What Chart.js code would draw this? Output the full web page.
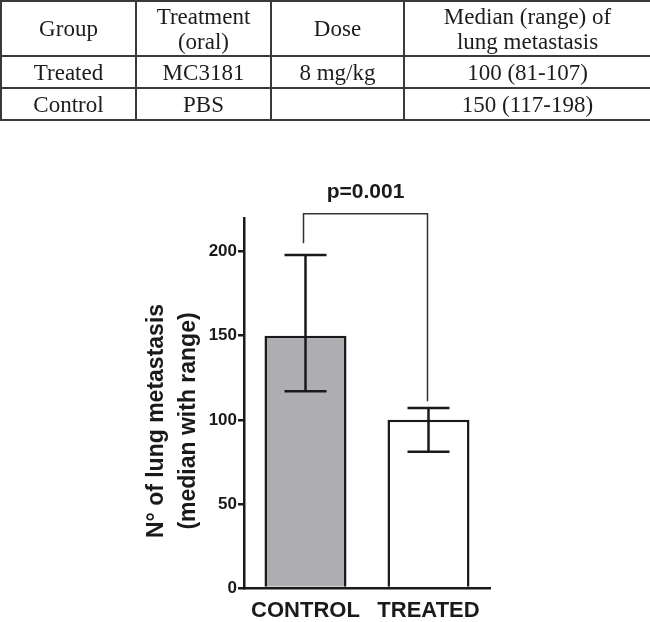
<!DOCTYPE html>
<html>
<head>
<meta charset="utf-8">
<script src="https://cdn.jsdelivr.net/npm/chart.js@4"></script>
<style>
  html, body { margin: 0; padding: 0; background: #ffffff; }
  #wrap { position: relative; width: 650px; height: 622px; overflow: hidden; }
  #chart { position: absolute; left: 0; top: 0; }
  #tbl {
    position: absolute; left: 0; top: 0; width: 650px;
    border-collapse: collapse; table-layout: fixed;
    font-family: "Liberation Serif", "Times New Roman", serif;
    font-size: 23px; color: #1c1c1c; z-index: 2;
  }
  #tbl td {
    border: 2px solid #3a3a3a; text-align: center; vertical-align: middle;
    padding: 0; line-height: 25px;
  }
  #tbl tr.h td { height: 53px; }
  #tbl tr.r td { height: 30px; }
</style>
</head>
<body>
<div id="wrap">
  <table id="tbl"><colgroup><col style="width:135px"><col style="width:135px"><col style="width:133px"><col style="width:247px"></colgroup><tbody></tbody></table>
  <canvas id="chart" width="650" height="622"></canvas>
</div>
<script>
// ---- table data ----
const tableHeader = ['Group', 'Treatment<br>(oral)', 'Dose', 'Median (range) of<br>lung metastasis'];
const tableGroups = ['Treated', 'Control'];
const tableTreatments = ['MC3181', 'PBS'];
const tableDoses = ['8 mg/kg', ''];
const tableMedianRange = ['100 (81-107)', '150 (117-198)'];

// ---- chart data ----
const categories = ['CONTROL', 'TREATED'];
const medians = [150, 100];
const rangeLow = [117, 81];
const rangeHigh = [198, 107];
const yTicks = [0, 50, 100, 150, 200];
const pLabel = 'p=0.001';
const yTitleLines = ['N\u00B0 of lung metastasis', '(median with range)'];

// build table
const tb = document.querySelector('#tbl tbody');
let html = '<tr class="h">' + tableHeader.map(h => '<td>' + h + '</td>').join('') + '</tr>';
for (let i = 0; i < tableGroups.length; i++) {
  html += '<tr class="r"><td>' + tableGroups[i] + '</td><td>' + tableTreatments[i] + '</td><td>' +
    tableDoses[i] + '</td><td>' + tableMedianRange[i] + '</td></tr>';
}
tb.innerHTML = html;

const INK = '#1a1a1a';
const SANS = '"Liberation Sans", Arial, sans-serif';

const errorBarPlugin = {
  id: 'errorBars',
  afterDatasetsDraw(chart) {
    const ctx = chart.ctx;
    const y = chart.scales.y;
    const meta = chart.getDatasetMeta(0);
    ctx.save();
    ctx.strokeStyle = INK;
    ctx.lineWidth = 2.5;
    meta.data.forEach((bar, i) => {
      const x = bar.x;
      const yl = y.getPixelForValue(rangeLow[i]);
      const yh = y.getPixelForValue(rangeHigh[i]);
      const cap = 21;
      ctx.beginPath();
      ctx.moveTo(x, yl); ctx.lineTo(x, yh);
      ctx.moveTo(x - cap, yl); ctx.lineTo(x + cap, yl);
      ctx.moveTo(x - cap, yh); ctx.lineTo(x + cap, yh);
      ctx.stroke();
    });
    ctx.restore();
  }
};

const bracketPlugin = {
  id: 'bracket',
  afterDraw(chart) {
    const ctx = chart.ctx;
    const y = chart.scales.y;
    const meta = chart.getDatasetMeta(0);
    const x0 = meta.data[0].x - 2;
    const x1 = meta.data[1].x - 1;
    const top = y.getPixelForValue(222.5);
    const leftEnd = y.getPixelForValue(205);
    const rightEnd = y.getPixelForValue(111);
    ctx.save();
    ctx.strokeStyle = '#333333';
    ctx.lineWidth = 1.5;
    ctx.beginPath();
    ctx.moveTo(x0, leftEnd); ctx.lineTo(x0, top); ctx.lineTo(x1, top); ctx.lineTo(x1, rightEnd);
    ctx.stroke();
    ctx.fillStyle = INK;
    ctx.font = 'bold 21px ' + SANS;
    ctx.textAlign = 'center';
    ctx.textBaseline = 'alphabetic';
    ctx.fillText(pLabel, (x0 + x1) / 2, top - 16);
    ctx.restore();
  }
};

const yTitlePlugin = {
  id: 'yTitle',
  afterDraw(chart) {
    const ctx = chart.ctx;
    const ca = chart.chartArea;
    const cy = (ca.top + ca.bottom) / 2 + 18;
    const baselines = [163, 195];
    ctx.save();
    ctx.fillStyle = INK;
    ctx.font = 'bold 23px ' + SANS;
    ctx.textAlign = 'center';
    ctx.textBaseline = 'alphabetic';
    yTitleLines.forEach((t, i) => {
      ctx.save();
      ctx.translate(baselines[i], cy);
      ctx.rotate(-Math.PI / 2);
      ctx.fillText(t, 0, 0);
      ctx.restore();
    });
    ctx.restore();
  }
};

new Chart(document.getElementById('chart'), {
  type: 'bar',
  data: {
    labels: categories,
    datasets: [{
      data: medians,
      backgroundColor: ['#aeaeb2', '#ffffff'],
      borderColor: INK,
      borderWidth: 2.5,
      categoryPercentage: 1.0,
      barPercentage: 0.667
    }]
  },
  options: {
    responsive: false,
    animation: false,
    devicePixelRatio: 1,
    layout: { padding: { top: 218, right: 160, left: 0, bottom: 0 } },
    plugins: { legend: { display: false }, tooltip: { enabled: false } },
    scales: {
      y: {
        min: 0, max: 220,
        afterBuildTicks(scale) { scale.ticks = yTicks.map(v => ({ value: v })); },
        afterFit(scale) { scale.width = 244; },
        grid: { display: true, drawOnChartArea: false, drawTicks: true, tickLength: 6, color: INK, lineWidth: 2.5 },
        border: { display: true, color: INK, width: 2.5 },
        ticks: { color: INK, padding: 1, font: { family: SANS, size: 17, weight: 'bold' } }
      },
      x: {
        afterFit(scale) { scale.height = 34; },
        grid: { display: false, drawOnChartArea: false, drawTicks: false },
        border: { display: true, color: INK, width: 2.5 },
        ticks: { color: INK, padding: 10, font: { family: SANS, size: 22, weight: 'bold' } }
      }
    }
  },
  plugins: [errorBarPlugin, bracketPlugin, yTitlePlugin]
});
</script>
</body>
</html>
